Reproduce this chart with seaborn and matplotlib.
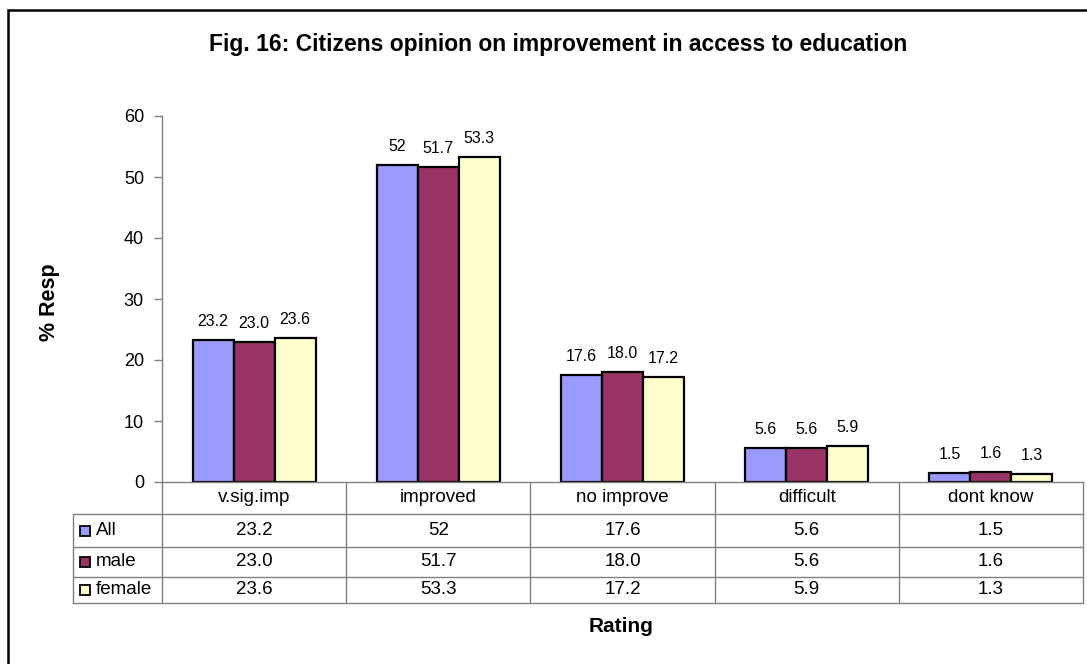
import numpy as np
import pandas as pd
import matplotlib
matplotlib.use("Agg")
import matplotlib.pyplot as plt
import seaborn as sns
from matplotlib.lines import Line2D
from matplotlib.patches import Rectangle

# ---- data ----
categories = ["v.sig.imp", "improved", "no improve", "difficult", "dont know"]
series = ["All", "male", "female"]
all_vals = [23.2, 52, 17.6, 5.6, 1.5]
male_vals = [23.0, 51.7, 18.0, 5.6, 1.6]
female_vals = [23.6, 53.3, 17.2, 5.9, 1.3]
series_colors = ["#9999FF", "#993366", "#FFFFCC"]
series_fmt = ["{:g}", "{:.1f}", "{:.1f}"]
yticks = [0, 10, 20, 30, 40, 50, 60]
title = "Fig. 16: Citizens opinion on improvement in access to education"

values = [all_vals, male_vals, female_vals]
df = pd.DataFrame({
    "Rating": categories * 3,
    "series": [s for s in series for _ in categories],
    "value": all_vals + male_vals + female_vals,
})

W, H = 1087, 664
sns.set_theme(style="white")
plt.rcParams["font.family"] = ["Liberation Sans", "DejaVu Sans"]
plt.rcParams["text.color"] = "black"
plt.rcParams["axes.labelcolor"] = "black"
plt.rcParams["ytick.color"] = "black"
plt.rcParams["xtick.color"] = "black"

fig = plt.figure(figsize=(W / 100, H / 100), dpi=100)
L, R, T, B = 162, 1083, 116, 482
ax = fig.add_axes([L / W, 1 - B / H, (R - L) / W, (B - T) / H])

sns.barplot(data=df, x="Rating", y="value", hue="series", order=categories,
            hue_order=series, palette=series_colors, width=0.667,
            edgecolor="black", linewidth=1.6, saturation=1, legend=False, ax=ax)

for cont, vals, fmt in zip(ax.containers, values, series_fmt):
    ax.bar_label(cont, labels=[fmt.format(v) for v in vals], padding=8,
                 fontsize=11.5, color="black")

grey = "#808080"
ax.set_ylim(0, 60)
ax.set_xlim(-0.5, 4.5)
ax.set_yticks(yticks)
ax.set_xticks([])
ax.set_xlabel("")
ax.set_ylabel("")
ax.tick_params(axis="y", left=True, length=6, width=1, color=grey, pad=7,
               labelsize=13, labelcolor="black")
for s in ["top", "right"]:
    ax.spines[s].set_visible(False)
for s in ["left", "bottom"]:
    ax.spines[s].set_color(grey)
    ax.spines[s].set_linewidth(1)

def fx(x):
    return x / W

def fy(y):
    return 1 - y / H

def line(x0, x1, y0, y1):
    fig.add_artist(Line2D([fx(x0), fx(x1)], [fy(y0), fy(y1)],
                          transform=fig.transFigure, color=grey, lw=1))

# table
xb = [L + (R - L) * i / 5 for i in range(6)]
rows_y = [482, 514, 547, 577, 603]
legx0 = 73
for y in rows_y[1:]:
    line(legx0, R, y, y)
line(legx0, legx0, rows_y[1], rows_y[-1])
for x in xb:
    line(x, x, rows_y[0], rows_y[-1])

for i, c in enumerate(categories):
    cx = (xb[i] + xb[i + 1]) / 2
    fig.text(fx(cx), fy((rows_y[0] + rows_y[1]) / 2), c, ha="center",
             va="center", fontsize=13.5)
for r, (s, vals, fmt, col) in enumerate(zip(series, values, series_fmt, series_colors)):
    cy = (rows_y[r + 1] + rows_y[r + 2]) / 2
    for i, v in enumerate(vals):
        cx = (xb[i] + xb[i + 1]) / 2
        fig.text(fx(cx), fy(cy), fmt.format(v), ha="center", va="center",
                 fontsize=13.5)
    fig.add_artist(Rectangle((fx(80), fy(cy + 5)), 10 / W, 10 / H,
                             transform=fig.transFigure, facecolor=col,
                             edgecolor="black", lw=1.3))
    fig.text(fx(96), fy(cy), s, ha="left", va="center", fontsize=13.5)

# titles
fig.text(fx(558), fy(45), title, ha="center", va="center", fontsize=16.5,
         fontweight="bold")
fig.text(fx(49), fy(302), "% Resp", ha="center", va="center", fontsize=15.5,
         fontweight="bold", rotation=90)
fig.text(fx(621), fy(627), "Rating", ha="center", va="center", fontsize=15,
         fontweight="bold")

# outer border (extends past the right/bottom edge)
fig.add_artist(Rectangle((fx(8), fy(H + 20)), (W + 20) / W, (H + 10) / H,
                         transform=fig.transFigure, facecolor="none",
                         edgecolor="black", lw=1.8))

fig.savefig("out.png", dpi=100)
